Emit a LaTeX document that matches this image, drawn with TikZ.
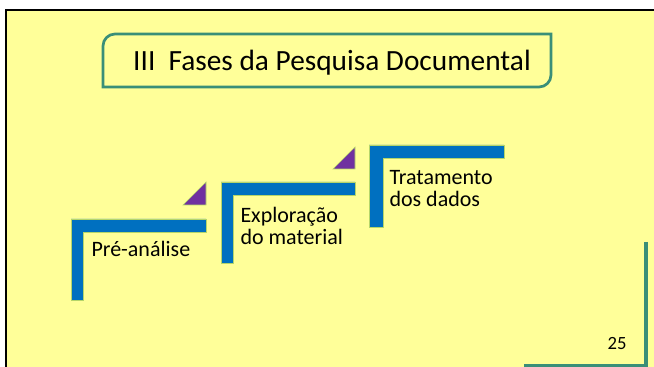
\documentclass[tikz,border=0pt]{standalone}
\usepackage{fontspec}
\setmainfont{Carlito}

\definecolor{slideyellow}{HTML}{FFFF99}
\definecolor{titlegreen}{HTML}{3A8F78}
\definecolor{stepblue}{HTML}{0070C0}
\definecolor{steppurple}{HTML}{7030A0}
\definecolor{rimgreen}{HTML}{B5D56A}

\tikzset{every picture/.style={line width=0.75pt}}
\tikzset{
  stepbar/.style={fill=stepblue, draw=rimgreen, line width=0.4pt},
  steptri/.style={fill=steppurple, draw=rimgreen, line width=0.4pt},
  steptext/.style={font=\fontsize{16.5}{16.5}\selectfont, align=left, anchor=west, inner sep=0pt}
}

\begin{document}
\begin{tikzpicture}[x=0.75pt,y=0.75pt,yscale=-1,xscale=1]
\useasboundingbox (0,0) rectangle (654,367);

%Shape: Rectangle [id:slide background]
\fill[slideyellow] (5,9) rectangle (654,367);
\draw[line width=2pt] (6,367) -- (6,10) -- (654,10);

%Shape: Snip Round Rectangle [id:title frame]
\draw[titlegreen, line width=2pt, fill=slideyellow] (103,87) [rounded corners=9] -- (103,34) [sharp corners] -- (551,34) [rounded corners=9] -- (551,87) [sharp corners] -- cycle;
\node[font=\fontsize{22}{26}\selectfont] (title) at (332,63) {III\ \ Fases da Pesquisa Documental};

%Shape: Half Frame [id:step one]
\draw[stepbar] (71,219) -- (206,219) -- (206,232) -- (83,232) -- (83,300) -- (71,300) -- cycle;
%Shape: Right Triangle [id:step one corner]
\draw[steptri] (183,205) -- (206,205) -- (206,182) -- cycle;
\node[steptext] (preanalise) at (91,249) {Pré-análise};

%Shape: Half Frame [id:step two]
\draw[stepbar] (221,182) -- (355,182) -- (355,195) -- (233,195) -- (233,263) -- (221,263) -- cycle;
%Shape: Right Triangle [id:step two corner]
\draw[steptri] (333,169) -- (355,169) -- (355,147) -- cycle;
\node[steptext] (exploracao) at (240,226) {Exploração\\do material};

%Shape: Half Frame [id:step three]
\draw[stepbar] (369,145) -- (504,145) -- (504,158) -- (383,158) -- (383,227) -- (369,227) -- cycle;
\node[steptext] (tratamento) at (389,189) {Tratamento\\dos dados};

%Straight Lines [id:page corner]
\draw[titlegreen, line width=2.5pt] (646,242) -- (646,366) -- (524,366);
\node[font=\fontsize{14}{16}\selectfont] (pagenum) at (617,344) {25};

\end{tikzpicture}
\end{document}
